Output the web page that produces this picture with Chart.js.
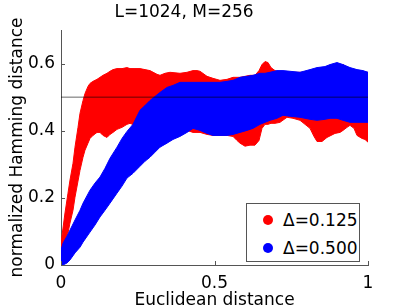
<!DOCTYPE html>
<html>
<head>
<meta charset="utf-8">
<script src="https://cdn.jsdelivr.net/npm/chart.js@4.4.1/dist/chart.umd.min.js"></script>
<style>
  body { margin: 0; background: #fff; }
  #wrap { position: relative; width: 407px; height: 308px; }
  #legend {
    position: absolute; left: 246px; top: 203px; width: 112px; height: 57px;
    border: 1px solid #555; background: #fff;
    font-family: "DejaVu Sans", sans-serif; font-size: 17px; color: #000;
  }
  #legend .dot { position: absolute; left: 16px; width: 10px; height: 10px; border-radius: 50%; }
  #legend .txt { position: absolute; left: 36px; line-height: 20px; white-space: nowrap; }
</style>
</head>
<body>
<div id="wrap">
  <canvas id="myChart" width="407" height="308"></canvas>
  <div id="legend">
    <span class="dot" style="top:11px;background:#ff0000"></span>
    <span class="txt" style="top:6px">Δ=0.125</span>
    <span class="dot" style="top:39px;background:#0000ff"></span>
    <span class="txt" style="top:34px">Δ=0.500</span>
  </div>
</div>
<script>
// red band, delta = 0.125 (edges)
var redX  = [0, 0.0065, 0.013, 0.0228, 0.0293, 0.0391, 0.0456, 0.0554, 0.0619, 0.0717, 0.0782, 0.0879, 0.0945, 0.1042, 0.1173, 0.127, 0.1368, 0.1498, 0.1596, 0.1694, 0.1824, 0.1987, 0.215, 0.2248, 0.241, 0.2573, 0.2899, 0.3127, 0.3225, 0.3388, 0.355, 0.3876, 0.4104, 0.43, 0.443, 0.4528, 0.4756, 0.4951, 0.5179, 0.5407, 0.5603, 0.5733, 0.5831, 0.5993, 0.6156, 0.6319, 0.645, 0.6547, 0.6645, 0.6743, 0.684, 0.6971, 0.7134, 0.7362, 0.7557, 0.7785, 0.7948, 0.8111, 0.8241, 0.8339, 0.8502, 0.8664, 0.8925, 0.9088, 0.9186, 0.9316, 0.9414, 0.9544, 0.9642, 0.9805, 0.9902, 1.0];
var redHi = [0.065, 0.110, 0.155, 0.214, 0.253, 0.303, 0.351, 0.410, 0.452, 0.490, 0.511, 0.532, 0.541, 0.547, 0.553, 0.559, 0.565, 0.571, 0.577, 0.582, 0.585, 0.585, 0.588, 0.585, 0.585, 0.585, 0.579, 0.568, 0.565, 0.571, 0.574, 0.571, 0.574, 0.579, 0.579, 0.577, 0.562, 0.556, 0.550, 0.553, 0.559, 0.559, 0.559, 0.562, 0.565, 0.565, 0.579, 0.597, 0.606, 0.603, 0.588, 0.579, 0.574, 0.574, 0.574, 0.574, 0.574, 0.574, 0.574, 0.574, 0.574, 0.574, 0.574, 0.585, 0.597, 0.588, 0.579, 0.574, 0.574, 0.574, 0.574, 0.574];
var redLo = [0.009, 0.045, 0.065, 0.095, 0.125, 0.163, 0.202, 0.250, 0.282, 0.321, 0.342, 0.363, 0.377, 0.386, 0.395, 0.395, 0.386, 0.380, 0.389, 0.395, 0.404, 0.410, 0.419, 0.422, 0.416, 0.416, 0.416, 0.416, 0.416, 0.407, 0.407, 0.401, 0.401, 0.395, 0.395, 0.395, 0.389, 0.386, 0.386, 0.386, 0.383, 0.371, 0.363, 0.354, 0.357, 0.357, 0.371, 0.407, 0.419, 0.419, 0.422, 0.422, 0.425, 0.440, 0.437, 0.431, 0.419, 0.407, 0.383, 0.368, 0.368, 0.380, 0.392, 0.395, 0.401, 0.410, 0.416, 0.407, 0.386, 0.377, 0.374, 0.366];

// blue band, delta = 0.500
var blueX  = [0, 0.0065, 0.0195, 0.0293, 0.0456, 0.0619, 0.0717, 0.0945, 0.1107, 0.127, 0.1433, 0.1596, 0.1824, 0.1987, 0.215, 0.2345, 0.2573, 0.2736, 0.2899, 0.3062, 0.3225, 0.3453, 0.3648, 0.3876, 0.4104, 0.43, 0.4528, 0.4756, 0.4951, 0.5179, 0.5407, 0.5603, 0.5831, 0.6059, 0.6254, 0.6482, 0.6645, 0.6808, 0.7036, 0.7231, 0.7459, 0.7785, 0.8111, 0.8339, 0.8599, 0.8762, 0.899, 0.9186, 0.9414, 0.9642, 0.9837, 1.0];
var blueHi = [0.045, 0.065, 0.086, 0.104, 0.134, 0.163, 0.184, 0.223, 0.244, 0.262, 0.288, 0.318, 0.351, 0.377, 0.398, 0.419, 0.461, 0.475, 0.490, 0.502, 0.514, 0.529, 0.535, 0.544, 0.544, 0.544, 0.544, 0.544, 0.544, 0.544, 0.547, 0.550, 0.559, 0.562, 0.565, 0.571, 0.571, 0.574, 0.579, 0.579, 0.577, 0.574, 0.582, 0.588, 0.591, 0.597, 0.603, 0.597, 0.588, 0.582, 0.579, 0.574];
var blueLo = [0, 0, 0.006, 0.015, 0.036, 0.053, 0.068, 0.098, 0.119, 0.143, 0.163, 0.184, 0.214, 0.235, 0.259, 0.273, 0.294, 0.309, 0.321, 0.336, 0.351, 0.363, 0.374, 0.383, 0.395, 0.407, 0.401, 0.392, 0.386, 0.386, 0.386, 0.389, 0.395, 0.401, 0.407, 0.419, 0.425, 0.431, 0.437, 0.446, 0.443, 0.440, 0.434, 0.431, 0.434, 0.437, 0.437, 0.431, 0.425, 0.425, 0.425, 0.425];

var xTicks = [0, 0.5, 1];
var yTicks = [0, 0.2, 0.4, 0.6];
var halfLine = 0.5;

function pts(xs, ys) {
    return xs.map(function (x, i) { return {x: x, y: ys[i]}; });
}

var FONT = 'DejaVu Sans';

// MATLAB style ticks point into the plot
var innerTicks = {
    id: 'innerTicks',
    afterDatasetsDraw: function (chart) {
        var c = chart.ctx, xs = chart.scales.x, ys = chart.scales.y, a = chart.chartArea;
        c.save();
        c.strokeStyle = '#555';
        c.lineWidth = 1;
        c.beginPath();
        xTicks.forEach(function (v) {
            var p = Math.round(xs.getPixelForValue(v)) + 0.5;
            c.moveTo(p, a.bottom); c.lineTo(p, a.bottom - 4);
        });
        yTicks.forEach(function (v) {
            var p = Math.round(ys.getPixelForValue(v)) + 0.5;
            c.moveTo(a.left, p); c.lineTo(a.left + 4, p);
        });
        c.stroke();
        c.restore();
    }
};

var ctx = document.getElementById('myChart').getContext('2d');
var chart = new Chart(ctx, {
    type: 'line',
    data: {
        datasets: [{
            data: [{x: 0, y: halfLine}, {x: 1, y: halfLine}],
            borderColor: 'rgba(0,0,0,0.6)',
            borderWidth: 1,
            order: 0
        }, {
            data: pts(blueX, blueLo),
            borderColor: '#0000ff',
            borderWidth: 1,
            order: 1
        }, {
            data: pts(blueX, blueHi),
            borderColor: '#0000ff',
            backgroundColor: '#0000ff',
            borderWidth: 1,
            fill: 1,
            order: 1
        }, {
            data: pts(redX, redLo),
            borderColor: '#ff0000',
            borderWidth: 1,
            order: 2
        }, {
            data: pts(redX, redHi),
            borderColor: '#ff0000',
            backgroundColor: '#ff0000',
            borderWidth: 1,
            fill: 3,
            order: 2
        }]
    },
    options: {
        responsive: false,
        animation: false,
        devicePixelRatio: 1,
        layout: {padding: {left: 0, right: 39, top: 0, bottom: 0}},
        elements: {point: {radius: 0}, line: {tension: 0}},
        plugins: {
            legend: {display: false},
            tooltip: {enabled: false},
            title: {
                display: true,
                text: 'L=1024, M=256',
                color: '#000',
                font: {family: FONT, size: 17, weight: 'normal'},
                padding: {top: 2, bottom: 7.6}
            }
        },
        scales: {
            x: {
                type: 'linear',
                min: 0, max: 1,
                grid: {display: false, drawTicks: false},
                border: {display: true, color: '#555'},
                afterBuildTicks: function (s) { s.ticks = xTicks.map(function (v) { return {value: v}; }); },
                afterFit: function (s) { s.height = 43; },
                ticks: {
                    color: '#000', padding: 8, maxRotation: 0, font: {family: FONT, size: 17},
                    callback: function (v) { return String(v); }
                },
                title: {
                    display: true, text: 'Euclidean distance', color: '#000',
                    font: {family: FONT, size: 17}, padding: {top: 0, bottom: -3}
                }
            },
            y: {
                min: 0, max: 0.7,
                grid: {display: false, drawTicks: false},
                border: {display: true, color: '#555'},
                afterBuildTicks: function (s) { s.ticks = yTicks.map(function (v) { return {value: v}; }); },
                afterFit: function (s) { s.width = 61; },
                ticks: {
                    color: '#000', padding: 6, font: {family: FONT, size: 17},
                    callback: function (v) { return String(v); }
                },
                title: {
                    display: true, text: 'normalized Hamming distance', color: '#000',
                    font: {family: FONT, size: 17}, padding: {top: 7, bottom: 0}
                }
            }
        }
    },
    plugins: [innerTicks]
});
</script>
</body>
</html>
